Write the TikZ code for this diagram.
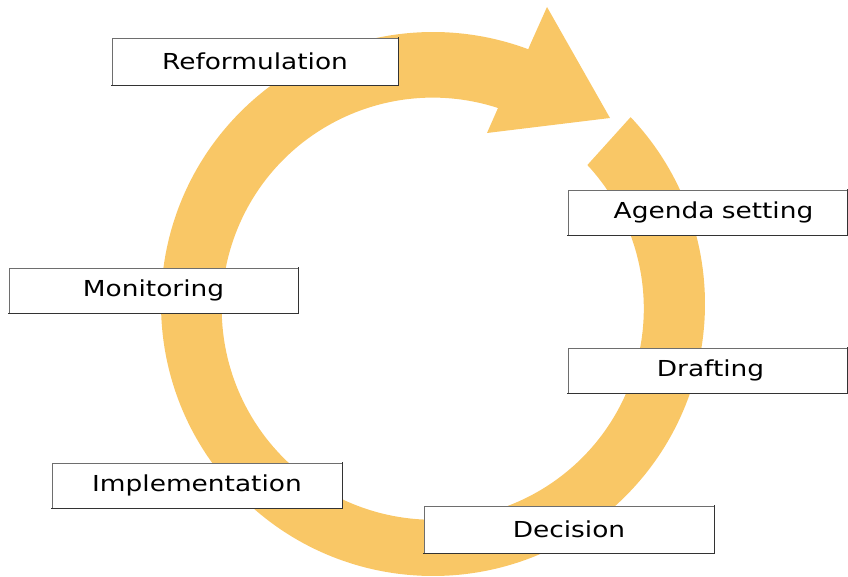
\documentclass[tikz,border=0pt]{standalone}
\usepackage{fontspec}
\setmainfont{DejaVu Sans}[FakeStretch=1.2]
\definecolor{ringcol}{RGB}{249,199,102}
\definecolor{boxline}{RGB}{110,110,110}
\begin{document}
\begin{tikzpicture}[x=1pt,y=1pt,
  stagebox/.style={draw=boxline, line width=0.7pt, fill=white, inner sep=0pt,
    font=\fontsize{22}{26}\selectfont, text=black},
  boxshade/.style={draw=black!80, line width=1.6pt, line cap=rect},
  ring/.style={fill=ringcol}]
\useasboundingbox (0,0) rectangle (848,576);
\coordinate (O) at (433,272);
\coordinate (I) at (433,268);
% ring arrow
\fill[ring] ([shift={(43.4:272pt)}]O)
  arc[start angle=43.4, end angle=-290.5, radius=272pt]
  -- (530,531) -- (547,569) -- (610,458) -- (487,443) -- (498,468)
  arc[start angle=-288, end angle=42.9, radius=211pt]
  -- cycle;
% boxes
\node[stagebox, minimum width=286pt, minimum height=47pt] (ref) at (255,514.5) {Reformulation};
\node[stagebox, minimum width=279pt, minimum height=45pt, text width=279pt, align=center] (age) at (707.5,363.5) {\hspace*{12pt}Agenda setting};
\node[stagebox, minimum width=289pt, minimum height=45pt] (mon) at (153.5,285.5) {Monitoring};
\node[stagebox, minimum width=279pt, minimum height=45pt, text width=279pt, align=center] (dra) at (707.5,205.5) {\hspace*{6pt}Drafting};
\node[stagebox, minimum width=290pt, minimum height=45pt] (imp) at (197,90.5) {Implementation};
\node[stagebox, minimum width=290pt, minimum height=47pt] (dec) at (569,46.5) {Decision};
\foreach \n in {ref,age,mon,dra,imp,dec}
  \draw[boxshade] (\n.south west) -- (\n.south east) -- (\n.north east);
\end{tikzpicture}
\end{document}
